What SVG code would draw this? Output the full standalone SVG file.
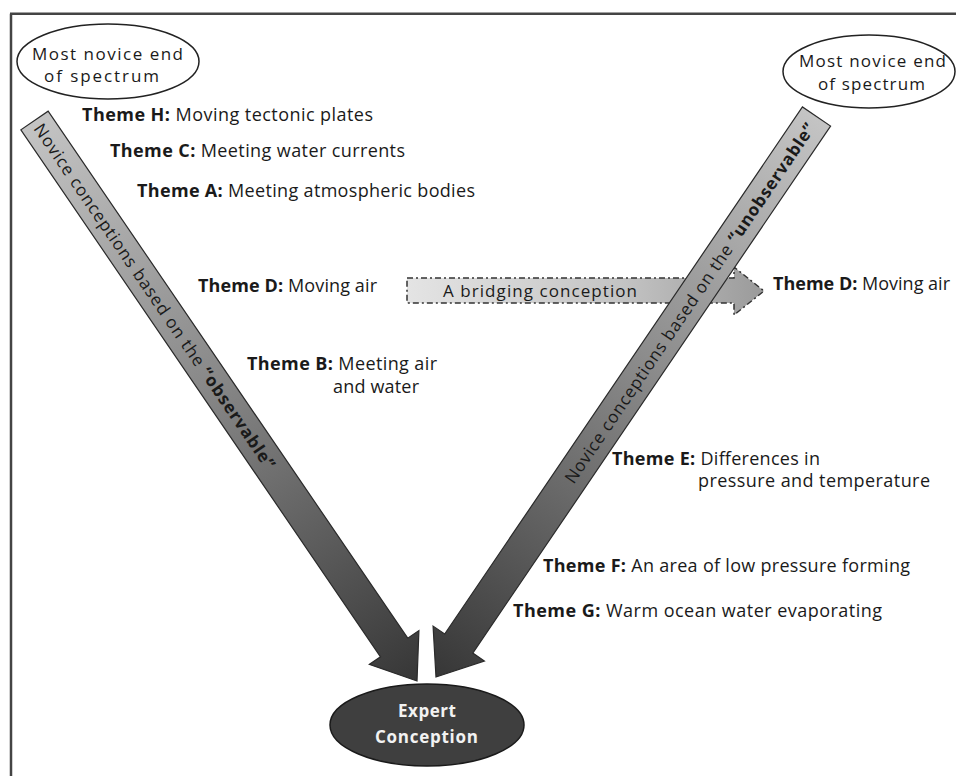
<svg xmlns="http://www.w3.org/2000/svg" width="956" height="776" viewBox="0 0 956 776">
<style>
  .t { font-family: "Open Sans", "Liberation Sans", sans-serif; font-size: 18px; fill: #1a1a1a; }
  .s { font-size: 17px; }
  .b { font-weight: bold; }
  .ell { fill: #ffffff; stroke: #222222; stroke-width: 1.5; }
  .big { stroke: #2a2a2a; stroke-width: 1.2; }
  .frame { stroke: #444444; stroke-width: 2.5; fill: none; }
</style>
<defs>
  <linearGradient id="gA" gradientUnits="userSpaceOnUse" x1="0" y1="0" x2="680" y2="0">
    <stop offset="0" stop-color="#c4c4c4"/>
    <stop offset="0.45" stop-color="#8a8a8a"/>
    <stop offset="1" stop-color="#363636"/>
  </linearGradient>
  <linearGradient id="gB" x1="0" y1="0" x2="1" y2="0">
    <stop offset="0" stop-color="#e4e4e4"/>
    <stop offset="0.6" stop-color="#c4c4c4"/>
    <stop offset="1" stop-color="#9a9a9a"/>
  </linearGradient>
</defs>
<rect width="956" height="776" fill="#ffffff"/>
<g id="frame">
  <line class="frame" x1="11" y1="13.8" x2="11" y2="776"/>
  <line class="frame" x1="10" y1="13.8" x2="956" y2="13.8"/>
</g>

<g id="connectors">
  <g id="bridging-arrow">
    <path d="M407,278 H734 V267 L764,291 L734,315 V303 H407 Z" fill="url(#gB)" stroke="#333333" stroke-width="1.5" stroke-dasharray="6,3,2,3"/>
    <text class="t s" x="443" y="297" textLength="194">A bridging conception</text>
  </g>
  <g id="observable-arrow" transform="translate(34.5,120.5) rotate(55.69)">
    <path class="big" d="M0,-16.5 H638 V-30 L678.6,0 L638,30 V16.5 H0 Z" fill="url(#gA)"/>
    <text class="t s" x="6" y="6" textLength="414">Novice conceptions based on the <tspan class="b">“observable”</tspan></text>
  </g>
  <g id="unobservable-arrow">
    <path class="big" transform="translate(816.5,116.5) rotate(124.17)" d="M0,-17 H637 V-31 L677.5,0 L637,31 V17 H0 Z" fill="url(#gA)"/>
    <text class="t s" transform="translate(568.8,481.4) rotate(-55.83)" x="0" y="6" textLength="431">Novice conceptions based on the <tspan class="b">“unobservable”</tspan></text>
  </g>
</g>

<g id="novice-left">
  <ellipse class="ell" cx="108" cy="61.5" rx="91" ry="37.5"/>
  <text class="t s" x="32" y="60" textLength="151">Most novice end</text>
  <text class="t s" x="44" y="82" textLength="115">of spectrum</text>
</g>
<g id="novice-right">
  <ellipse class="ell" cx="869" cy="71.5" rx="86" ry="36.5"/>
  <text class="t s" x="799" y="67" textLength="147">Most novice end</text>
  <text class="t s" x="818" y="90" textLength="107">of spectrum</text>
</g>
<g id="expert">
  <ellipse cx="427" cy="725" rx="97" ry="41" fill="#3f3f3f" stroke="#1a1a1a" stroke-width="1.5"/>
  <text class="t s b" x="398" y="717" textLength="58" style="fill:#f2f2f2">Expert</text>
  <text class="t s b" x="375" y="743" textLength="103" style="fill:#f2f2f2">Conception</text>
</g>

<g id="theme-h"><text class="t" x="82" y="121" textLength="291"><tspan class="b">Theme H:</tspan> Moving tectonic plates</text></g>
<g id="theme-c"><text class="t" x="110" y="157" textLength="295"><tspan class="b">Theme C:</tspan> Meeting water currents</text></g>
<g id="theme-a"><text class="t" x="137" y="197" textLength="338"><tspan class="b">Theme A:</tspan> Meeting atmospheric bodies</text></g>
<g id="theme-d-left"><text class="t" x="198" y="292" textLength="179"><tspan class="b">Theme D:</tspan> Moving air</text></g>
<g id="theme-b">
  <text class="t" x="247" y="370" textLength="190"><tspan class="b">Theme B:</tspan>  Meeting air</text>
  <text class="t" x="333" y="393" textLength="86">and water</text>
</g>
<g id="theme-d-right"><text class="t" x="773" y="290" textLength="177"><tspan class="b">Theme D:</tspan> Moving air</text></g>
<g id="theme-e">
  <text class="t" x="612" y="465" textLength="208"><tspan class="b">Theme E:</tspan> Differences in</text>
  <text class="t" x="698" y="487" textLength="232">pressure and temperature</text>
</g>
<g id="theme-f"><text class="t" x="543" y="572" textLength="367"><tspan class="b">Theme F:</tspan> An area of low pressure forming</text></g>
<g id="theme-g"><text class="t" x="513" y="617" textLength="369"><tspan class="b">Theme G:</tspan> Warm ocean water evaporating</text></g>
</svg>
